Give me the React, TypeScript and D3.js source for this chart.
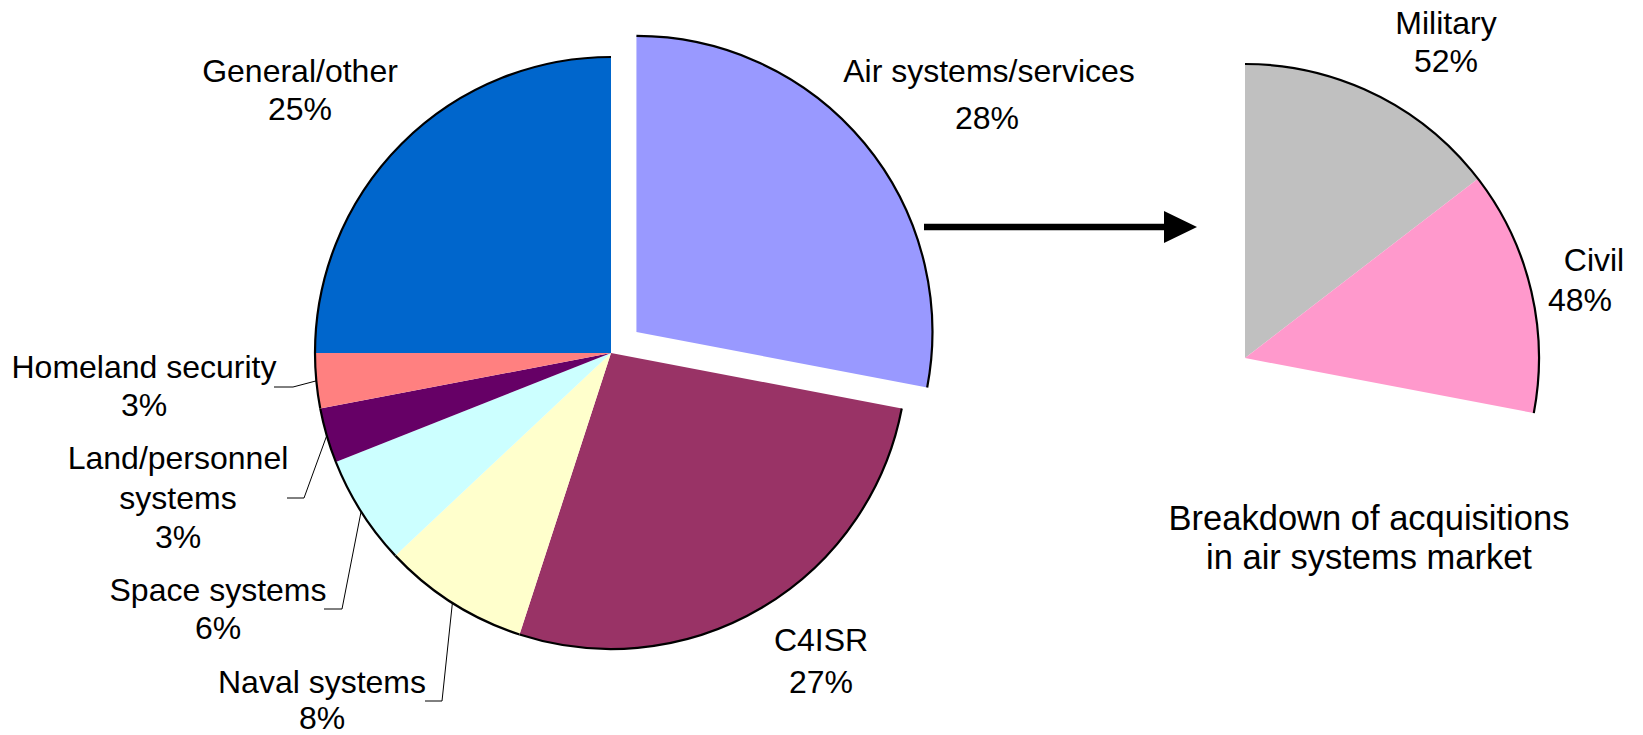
import React from "react";
import * as d3 from "d3";

// ---- data ----
const categories = [
  "Air systems/services",
  "C4ISR",
  "Naval systems",
  "Space systems",
  "Land/personnel systems",
  "Homeland security",
  "General/other",
];
const shares = [28, 27, 8, 6, 3, 3, 25];
const sliceColors = ["#9999FF", "#993366", "#FFFFCC", "#CCFFFF", "#660066", "#FF8080", "#0066CC"];

const airCategories = ["Military", "Civil"];
const airShares = [52, 48];
const airColors = ["#C0C0C0", "#FF99CC"];

const subTitle = ["Breakdown of acquisitions", "in air systems market"];

// ---- layout ----
const W = 1643;
const H = 735;
const FONT = "'Liberation Sans', Arial, sans-serif";
const FS = 32;
const mainCx = 611;
const mainCy = 353;
const mainR = 296;
const explode = 33;
const subCx = 1245;
const subCy = 358;
const subR = 294;

// label text layout: lines with x and baseline y; leader (optional) = horizontal segment start/end x and y
const mainLabelLayout: Record<string, { lines: [string, number, number][]; leader?: [number, number, number] }> = {
  "Air systems/services": { lines: [["Air systems/services", 989, 82], ["28%", 987, 129]] },
  C4ISR: { lines: [["C4ISR", 821, 651], ["27%", 821, 693]] },
  "Naval systems": { lines: [["Naval systems", 322, 693], ["8%", 322, 729]], leader: [425, 442, 701] },
  "Space systems": { lines: [["Space systems", 218, 601], ["6%", 218, 639]], leader: [324, 342, 609] },
  "Land/personnel systems": {
    lines: [["Land/personnel", 178, 469], ["systems", 178, 509], ["3%", 178, 548]],
    leader: [287, 304, 498],
  },
  "Homeland security": { lines: [["Homeland security", 144, 378], ["3%", 144, 416]], leader: [274, 293, 387] },
  "General/other": { lines: [["General/other", 300, 82], ["25%", 300, 120]] },
};
const subLabelLayout: Record<string, [string, number, number][]> = {
  Military: [["Military", 1446, 34], ["52%", 1446, 72]],
  Civil: [["Civil", 1594, 271], ["48%", 1580, 311]],
};

export default function App() {
  const pie = d3
    .pie<number>()
    .sort(null)
    .value((d) => d)
    .startAngle(0)
    .endAngle(2 * Math.PI);
  const arcs = pie(shares);
  const arcGen = d3.arc<d3.PieArcDatum<number>>().innerRadius(0).outerRadius(mainR);
  const rimGen = d3.arc<d3.PieArcDatum<number>>().innerRadius(mainR).outerRadius(mainR);

  const airArc = arcs[0];
  const airEnd = airArc.endAngle;
  const subPie = d3
    .pie<number>()
    .sort(null)
    .value((d) => d)
    .startAngle(0)
    .endAngle(airEnd);
  const subArcs = subPie(airShares);
  const subArcGen = d3.arc<d3.PieArcDatum<number>>().innerRadius(0).outerRadius(subR);
  const subRim = d3
    .arc<any>()
    .innerRadius(subR)
    .outerRadius(subR)({ startAngle: 0, endAngle: airEnd } as any);

  const offsetFor = (a: d3.PieArcDatum<number>, i: number) => {
    if (i !== 0) return [0, 0];
    const mid = (a.startAngle + a.endAngle) / 2;
    return [Math.sin(mid) * explode, -Math.cos(mid) * explode];
  };

  const arrowY = 227;
  const arrowX0 = 924;
  const arrowBase = 1164;
  const arrowTip = 1197;

  return (
    <svg
      width={W}
      height={H}
      style={{ position: "absolute", left: 0, top: 0, background: "#fff" }}
      fontFamily={FONT}
    >
      <rect width={W} height={H} fill="#fff" />
      {/* main pie */}
      {arcs.map((a, i) => {
        const [dx, dy] = offsetFor(a, i);
        return (
          <g key={categories[i]} transform={`translate(${mainCx + dx},${mainCy + dy})`}>
            <path d={arcGen(a) || ""} fill={sliceColors[i]} />
            <path d={rimGen(a) || ""} fill="none" stroke="#000" strokeWidth={2.2} />
          </g>
        );
      })}
      {/* leaders */}
      {arcs.map((a, i) => {
        const lay = mainLabelLayout[categories[i]];
        if (!lay.leader) return null;
        const mid = (a.startAngle + a.endAngle) / 2;
        const px = mainCx + Math.sin(mid) * mainR;
        const py = mainCy - Math.cos(mid) * mainR;
        const [x0, x1, y] = lay.leader;
        return (
          <polyline
            key={"l" + i}
            points={`${x0},${y} ${x1},${y} ${px},${py}`}
            fill="none"
            stroke="#000"
            strokeWidth={1}
          />
        );
      })}
      {/* main labels */}
      {categories.map((c) =>
        mainLabelLayout[c].lines.map(([t, x, y], j) => (
          <text key={c + j} x={x} y={y} fontSize={FS} textAnchor="middle" fill="#000">
            {t}
          </text>
        ))
      )}
      {/* arrow */}
      <line x1={arrowX0} y1={arrowY} x2={arrowBase + 2} y2={arrowY} stroke="#000" strokeWidth={6.5} />
      <path
        d={`M${arrowBase},${arrowY - 16}L${arrowTip},${arrowY}L${arrowBase},${arrowY + 16}Z`}
        fill="#000"
      />
      {/* sub pie */}
      <g transform={`translate(${subCx},${subCy})`}>
        {subArcs.map((a, i) => (
          <path key={airCategories[i]} d={subArcGen(a) || ""} fill={airColors[i]} />
        ))}
        <path d={subRim || ""} fill="none" stroke="#000" strokeWidth={2.2} />
      </g>
      {airCategories.map((c) =>
        subLabelLayout[c].map(([t, x, y], j) => (
          <text key={c + j} x={x} y={y} fontSize={FS} textAnchor="middle" fill="#000">
            {t}
          </text>
        ))
      )}
      {subTitle.map((t, j) => (
        <text key={t} x={1369} y={530 + j * 39} fontSize={34.5} textAnchor="middle" fill="#000">
          {t}
        </text>
      ))}
    </svg>
  );
}
